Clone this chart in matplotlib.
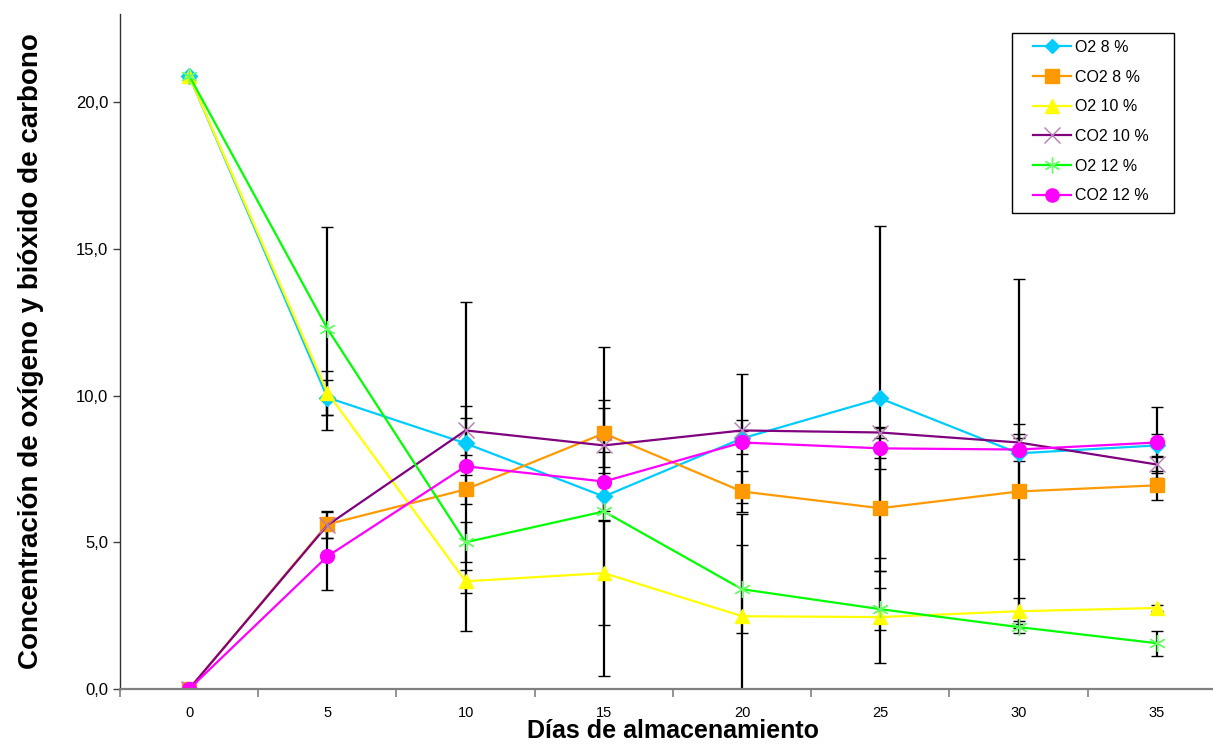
import matplotlib
matplotlib.use("Agg")
import matplotlib.pyplot as plt
from matplotlib.ticker import FuncFormatter, FixedLocator
from matplotlib.lines import Line2D
from matplotlib.patches import Rectangle

plt.rcParams['font.family'] = ['Liberation Sans', 'DejaVu Sans']

days = [0, 5, 10, 15, 20, 25, 30, 35]
labels = ["O2 8 %", "CO2 8 %", "O2 10 %", "CO2 10 %", "O2 12 %", "CO2 12 %"]

o2_8 = [20.9, 9.93, 8.37, 6.56, 8.54, 9.90, 8.03, 8.30]
co2_8 = [0.0, 5.61, 6.80, 8.71, 6.73, 6.16, 6.73, 6.94]
o2_10 = [20.9, 10.1, 3.67, 3.95, 2.48, 2.45, 2.65, 2.76]
co2_10 = [0.0, 5.58, 8.81, 8.30, 8.81, 8.74, 8.40, 7.65]
o2_12 = [20.9, 12.28, 5.00, 6.05, 3.40, 2.72, 2.11, 1.56]
co2_12 = [0.0, 4.52, 7.59, 7.07, 8.40, 8.20, 8.16, 8.40]

err_o2_8 = [0.0, 0.60, 0.88, 0.80, 2.20, 5.88, 5.94, 0.40]
err_co2_8 = [0.0, 0.45, 0.50, 1.15, 0.70, 1.70, 2.31, 0.50]
err_o2_10 = [0.0, 0.75, 0.40, 1.77, 3.48, 1.57, 0.45, 0.10]
err_co2_10 = [0.0, 0.45, 0.85, 1.26, 0.35, 0.20, 0.30, 0.30]
err_o2_12 = [0.0, 3.45, 0.68, 5.60, 1.50, 0.72, 0.20, 0.42]
err_co2_12 = [0.0, 1.15, 5.60, 1.00, 0.40, 0.70, 0.40, 1.20]

series = [o2_8, co2_8, o2_10, co2_10, o2_12, co2_12]
errors = [err_o2_8, err_co2_8, err_o2_10, err_co2_10, err_o2_12, err_co2_12]
colors = ['#00CCFF', '#FF9900', '#FFFF00', '#800080', '#00FF00', '#FF00FF']
markers = ['D', 's', '^', 'x', (6, 2, 0), 'o']
msizes = [8, 10, 10, 12, 12, 10]
medge = ['#00CCFF', '#FF9900', '#FFFF00', '#B77BB7', '#66FF66', '#FF00FF']

fig = plt.figure(figsize=(12.13, 7.45), dpi=100)
ax = fig.add_axes([120/1213, 56/745, 1106/1213, 675/745])

x = list(range(len(days)))
handles = []
for vals, err, c, m, ms, me, lab in zip(series, errors, colors, markers, msizes, medge, labels):
    ax.errorbar(x, vals, yerr=err, color=c, marker=m, markersize=ms,
                markerfacecolor=c, markeredgecolor=me, markeredgewidth=1.0,
                linewidth=1.6, ecolor='black', elinewidth=1.6, capsize=4,
                capthick=1.6)
    handles.append(Line2D([], [], color=c, marker=m, markersize=ms * 0.95,
                          markerfacecolor=c, markeredgecolor=me,
                          markeredgewidth=1.0, linewidth=1.6, label=lab))

ax.set_xlim(-0.5, len(days) - 0.5)
ax.set_ylim(0, 23)

ax.xaxis.set_major_locator(FixedLocator([i - 0.5 for i in range(len(days) + 1)]))
ax.xaxis.set_minor_locator(FixedLocator(x))
ax.set_xticklabels([])
ax.set_xticklabels([str(d) for d in days], minor=True)
ax.tick_params(axis='x', which='major', direction='out', length=6, width=1.2, color='#808080')
ax.tick_params(axis='x', which='minor', length=0, pad=12.5, labelsize=10.5)

ax.set_yticks([0, 5, 10, 15, 20])
ax.yaxis.set_major_formatter(FuncFormatter(lambda v, p: f"{v:.1f}".replace('.', ',')))
ax.tick_params(axis='y', direction='out', length=5, width=1.0, color='#404040',
               labelsize=12, pad=3.5)

for s in ['top', 'right']:
    ax.spines[s].set_visible(False)
ax.spines['bottom'].set_color('#808080')
ax.spines['bottom'].set_linewidth(1.6)
ax.spines['left'].set_color('#303030')
ax.spines['left'].set_linewidth(1.0)

ax.set_ylabel("Concentración de oxígeno y bióxido de carbono", fontsize=20,
              fontweight='bold', labelpad=23)
ax.set_xlabel("Días de almacenamiento", fontsize=18, fontweight='bold')
ax.xaxis.set_label_coords(673/1213, 1 - 719/745, transform=fig.transFigure)

# legend frame
fig.patches.append(Rectangle((1012/1213, 1 - 213/745), 162/1213, 180/745,
                             transform=fig.transFigure, facecolor='white',
                             edgecolor='black', linewidth=1.0, zorder=5))
leg = fig.legend(handles=handles, loc='upper left',
                 bbox_to_anchor=(1033/1213, 1 - 40/745), fontsize=11.5,
                 frameon=False, handlelength=2.4, handletextpad=0.25,
                 labelspacing=0.92, borderpad=0, borderaxespad=0)
leg.set_zorder(6)
fig.savefig("out.png", dpi=100)
